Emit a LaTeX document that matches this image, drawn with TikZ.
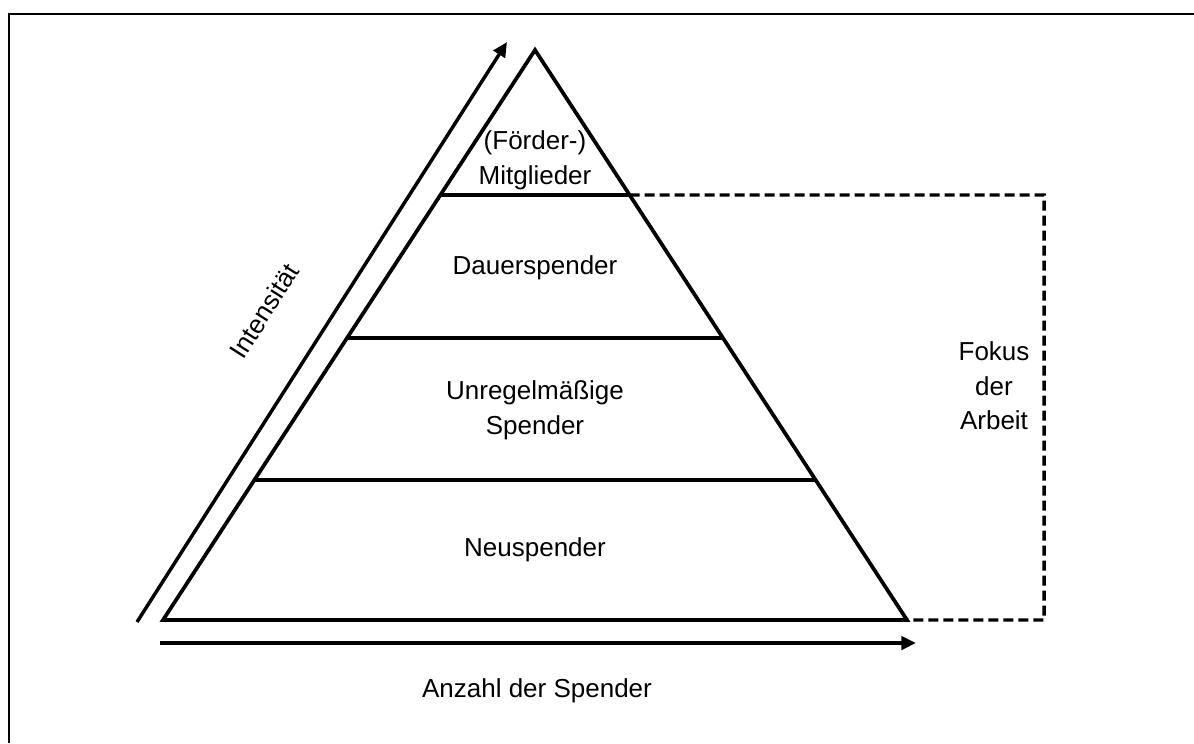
\documentclass[tikz,border=0pt]{standalone}
\usepackage{fontspec}
\setmainfont{Liberation Sans}
\usetikzlibrary{arrows.meta,calc}
\begin{document}
\begin{tikzpicture}[x=0.75pt,y=-0.75pt,
  edge/.style={line width=2.8pt,line join=miter},
  axis/.style={line width=2.6pt,-{Triangle[length=11pt,width=10pt]}},
  focusline/.style={line width=2.6pt,dash pattern=on 7.5pt off 3.75pt},
  label/.style={font=\fontsize{19.5}{26}\selectfont,align=center,inner sep=0pt}]
\useasboundingbox (0,0) rectangle (1194,743);
% frame (top and left edges)
\draw[line width=1.7pt] (9,743) -- (9,14) -- (1194,14);
% pyramid corners
\coordinate (apex) at (535,50);
\coordinate (bl) at (163,620);
\coordinate (br) at (907,620);
\draw[edge] (apex) -- (br) -- (bl) -- cycle;
% layer boundaries
\coordinate (l1) at ($(apex)!0.2544!(bl)$);
\coordinate (r1) at ($(apex)!0.2544!(br)$);
\coordinate (l2) at ($(apex)!0.5053!(bl)$);
\coordinate (r2) at ($(apex)!0.5053!(br)$);
\coordinate (l3) at ($(apex)!0.7544!(bl)$);
\coordinate (r3) at ($(apex)!0.7544!(br)$);
\draw[edge] (l1) -- (r1);
\draw[edge] (l2) -- (r2);
\draw[edge] (l3) -- (r3);
% layer labels
\node[label] (mitgl) at (535,160) {(Förder-)\\Mitglieder};
\node[label] (dauer) at (535,268) {Dauerspender};
\node[label] (unreg) at (535,410) {Unregelmäßige\\Spender};
\node[label] (neu) at (535,550) {Neuspender};
% focus bracket
\coordinate (ftop) at (1044,195);
\coordinate (fbot) at (1044,620);
\draw[focusline] (r1) -- (ftop) -- (fbot) -- (br);
\node[label] (fokus) at (994,386) {Fokus\\der\\Arbeit};
% axes
\coordinate (ya) at (137,622);
\coordinate (yb) at (507,42);
\draw[axis] (ya) -- (yb);
\coordinate (xa) at (160,643);
\coordinate (xb) at (916,643);
\draw[axis] (xa) -- (xb);
\node[label,rotate=57.5] (intens) at (264,311) {Intensität};
\node[label] (anzahl) at (537,691) {Anzahl der Spender};
\end{tikzpicture}
\end{document}
